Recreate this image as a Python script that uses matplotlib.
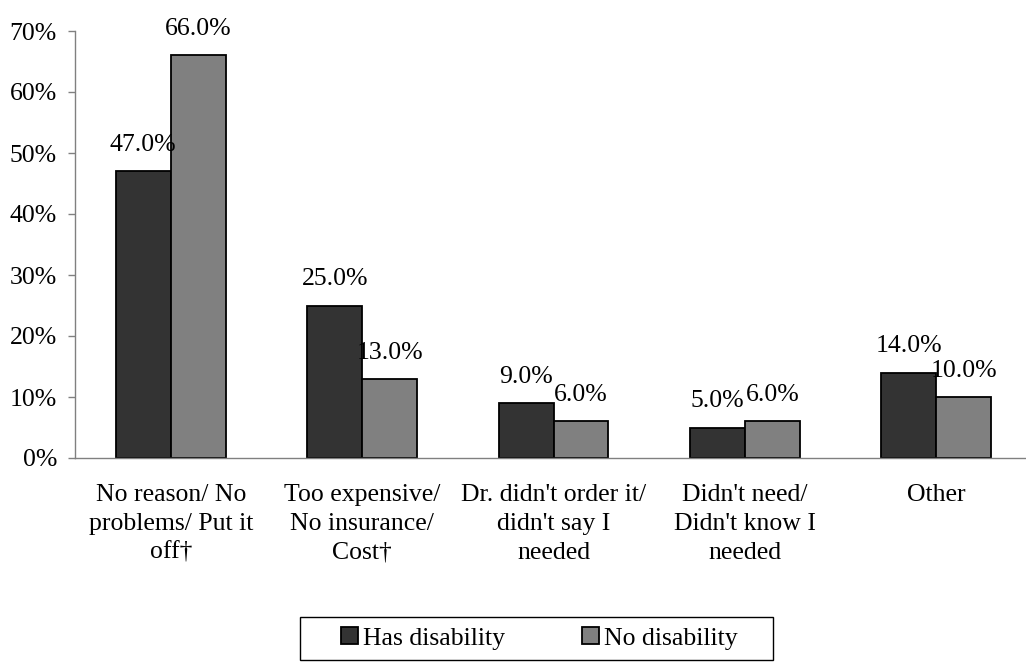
import matplotlib
matplotlib.use("Agg")
import matplotlib.pyplot as plt
from matplotlib.patches import Rectangle
import numpy as np

categories = ["No reason/ No\nproblems/ Put it\noff\u2020",
              "Too expensive/\nNo insurance/\nCost\u2020",
              "Dr. didn't order it/\ndidn't say I\nneeded",
              "Didn't need/\nDidn't know I\nneeded",
              "Other"]
has_disability = [47.0, 25.0, 9.0, 5.0, 14.0]
no_disability = [66.0, 13.0, 6.0, 6.0, 10.0]
series_names = ["Has disability", "No disability"]

plt.rcParams['font.family'] = ['Liberation Serif', 'DejaVu Serif']
fs = 18.5

fig = plt.figure(figsize=(10.26, 6.63), dpi=100)
ax = fig.add_axes([75/1026, 1 - 458/663, 957/1026, 427/663])

x = np.arange(len(categories))
w = 0.287
b1 = ax.bar(x - w/2, has_disability, w, color='#333333', edgecolor='black', linewidth=1.3, label=series_names[0])
b2 = ax.bar(x + w/2, no_disability, w, color='#808080', edgecolor='black', linewidth=1.3, label=series_names[1])

for bars, vals in ((b1, has_disability), (b2, no_disability)):
    for r, v in zip(bars, vals):
        ax.annotate(f"{v:.1f}%", (r.get_x() + r.get_width()/2, r.get_height()),
                    xytext=(0, 14.5), textcoords='offset points',
                    ha='center', va='baseline', fontsize=fs)

ax.set_xlim(-0.5, len(categories) - 0.5)
ax.set_ylim(0, 70)
ax.set_yticks(range(0, 71, 10))
ax.set_yticklabels([f"{t}%" for t in range(0, 71, 10)], fontsize=fs)
ax.set_xticks(x)
ax.set_xticklabels(categories, fontsize=fs, va='top', linespacing=1.4)
ax.tick_params(axis='x', length=0, pad=19)
ax.tick_params(axis='y', length=5, width=1, color='#808080', pad=8)

for s in ['top', 'right']:
    ax.spines[s].set_visible(False)
for s in ['left', 'bottom']:
    ax.spines[s].set_color('#808080')
    ax.spines[s].set_linewidth(1)

# legend box drawn separately so it can be wider than the entries
fig.patches.append(Rectangle((300/1026, 1 - 660/663), 473/1026, 43/663,
                             transform=fig.transFigure, facecolor='white',
                             edgecolor='black', linewidth=1, zorder=0))
fig.legend(loc='center', bbox_to_anchor=(539/1026, 1 - 638.5/663), ncol=2,
           fontsize=fs, frameon=False,
           handlelength=0.66, handleheight=0.66, handletextpad=0.2,
           columnspacing=3.0, borderpad=0.0)

fig.savefig("out.png", dpi=100)
